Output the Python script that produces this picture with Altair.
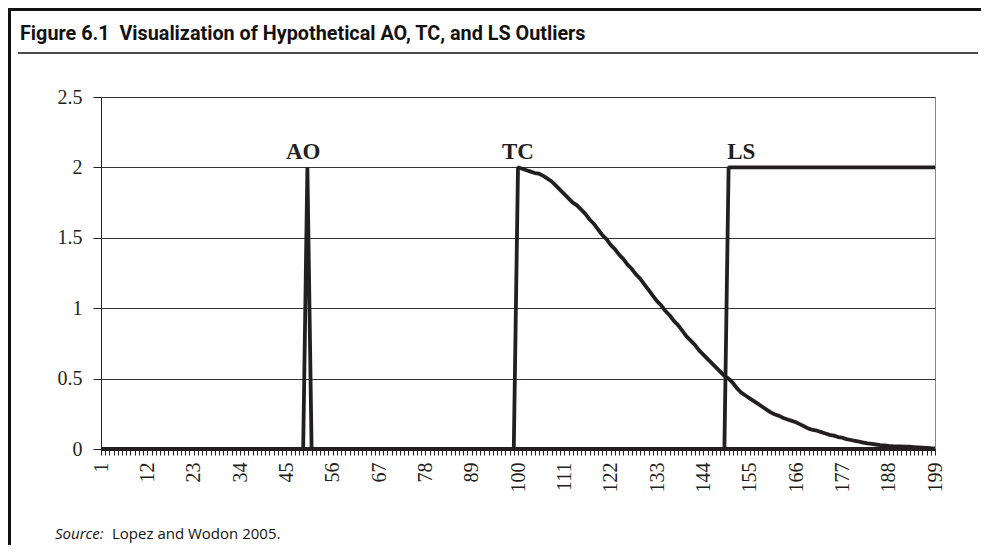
import altair as alt
import pandas as pd

# ---------------- data ----------------
periods = list(range(1, 200))

# Additive outlier: spike at t = 50
ao_values = [0.0] * 49 + [2.0] + [0.0] * 149

# Temporary change: jump at t = 100, then gradual decay
tc_tail = [
    2.00, 1.99, 1.98, 1.97, 1.96, 1.955, 1.94, 1.92, 1.90, 1.87,
    1.84, 1.81, 1.78, 1.75, 1.73, 1.70, 1.67, 1.63, 1.60, 1.56,
    1.52, 1.49, 1.45, 1.42, 1.38, 1.35, 1.31, 1.28, 1.24, 1.21,
    1.17, 1.13, 1.09, 1.05, 1.02, 0.98, 0.95, 0.91, 0.88, 0.84,
    0.80, 0.77, 0.74, 0.70, 0.67, 0.64, 0.61, 0.58, 0.55, 0.52,
    0.50, 0.47, 0.43, 0.40, 0.38, 0.36, 0.34, 0.32, 0.30, 0.28,
    0.26, 0.245, 0.235, 0.22, 0.21, 0.20, 0.19, 0.175, 0.16, 0.145,
    0.135, 0.13, 0.12, 0.11, 0.10, 0.095, 0.085, 0.08, 0.07, 0.064,
    0.058, 0.052, 0.046, 0.04, 0.036, 0.032, 0.028, 0.025, 0.022, 0.02,
    0.019, 0.018, 0.017, 0.016, 0.014, 0.012, 0.01, 0.008, 0.006, 0.005,
]
tc_values = [0.0] * 99 + tc_tail

# Level shift: permanent jump at t = 150
ls_values = [0.0] * 149 + [2.0] * 50

series_names = ["AO", "TC", "LS"]
label_positions = [49, 100, 153]
label_levels = [2.0, 2.0, 2.0]
y_ticks = [0, 0.5, 1, 1.5, 2, 2.5]

title_text = "Figure 6.1\u00a0\u00a0Visualization of Hypothetical AO, TC, and LS Outliers"
source_italic = "Source:"
source_rest = "Lopez and Wodon 2005."

# ---------------- tables ----------------
rows = []
for name, vals in zip(series_names, [ao_values, tc_values, ls_values]):
    for t, v in zip(periods, vals):
        rows.append({"t": t, "value": v, "series": name})
df = pd.DataFrame(rows)

labels_df = pd.DataFrame({"label": series_names, "t": label_positions, "level": label_levels})
one = pd.DataFrame({"k": [0]})

INK = "#231f20"
SERIF = "Liberation Serif, Times New Roman, serif"
TITLE_FONT = "Roboto, Liberation Sans, sans-serif"

x_enc = alt.X(
    "t:Q",
    scale=alt.Scale(domain=[1, 199], nice=False, zero=False),
    axis=alt.Axis(
        values=periods,
        tickCount=400,
        format="d",
        labelExpr="(datum.value - 1) % 11 == 0 ? datum.label : ''",
        labelAngle=270,
        labelAlign="right",
        labelBaseline="middle",
        labelOverlap=False,
        labelFlush=False,
        tickSize=6,
        labelPadding=7,
        grid=False,
        title=None,
        labelFont=SERIF,
        labelFontSize=20,
        labelColor=INK,
        domainColor=INK,
        tickColor=INK,
    ),
)
y_enc = alt.Y(
    "value:Q",
    scale=alt.Scale(domain=[0, 2.5], nice=False),
    axis=alt.Axis(
        values=y_ticks,
        format="~g",
        tickSize=8,
        labelPadding=11,
        grid=True,
        gridColor="#333333",
        gridWidth=1,
        title=None,
        labelFont=SERIF,
        labelFontSize=20,
        labelColor=INK,
        domainColor=INK,
        tickColor=INK,
    ),
)

lines = alt.Chart(df).mark_line(color=INK, strokeWidth=3.8, strokeJoin="bevel").encode(
    x=x_enc, y=y_enc, detail="series:N"
)

series_labels = alt.Chart(labels_df).mark_text(
    font=SERIF, fontWeight="bold", fontSize=23, color=INK, baseline="alphabetic", dy=-8, align="center"
).encode(x="t:Q", y="level:Q", text="label:N")

# ---------------- frame and captions (pixel offsets relative to plot area) ----------------
left_border = alt.Chart(one).mark_rule(color="#111111", strokeWidth=3).encode(
    x=alt.value(-91.5), y=alt.value(-88), y2=alt.value(448)
)
top_border = alt.Chart(one).mark_rule(color="#111111", strokeWidth=3).encode(
    x=alt.value(-93), x2=alt.value(880), y=alt.value(-87.5)
)
title_rule = alt.Chart(one).mark_rule(color="#111111", strokeWidth=1.5).encode(
    x=alt.value(-83), x2=alt.value(877), y=alt.value(-44)
)
title = alt.Chart(one).mark_text(
    text=title_text, font=TITLE_FONT, fontWeight="bold", fontSize=19.8, color="#111111",
    align="left", baseline="alphabetic"
).encode(x=alt.value(-81), y=alt.value(-57))

source_a = alt.Chart(one).mark_text(
    text=source_italic, font="Open Sans", fontStyle="italic", fontSize=15, color="#111111",
    align="left", baseline="alphabetic"
).encode(x=alt.value(-46), y=alt.value(442))
source_b = alt.Chart(one).mark_text(
    text=source_rest, font="Open Sans", fontSize=15, color="#111111",
    align="left", baseline="alphabetic"
).encode(x=alt.value(11), y=alt.value(442))

chart = alt.layer(
    lines, series_labels, left_border, top_border, title_rule, title, source_a, source_b
).properties(
    width=834,
    height=352,
    autosize=alt.AutoSizeParams(type="none"),
    padding={"left": 93, "top": 89, "right": 46, "bottom": 96},
    background="white",
).configure_view(stroke="#8a8a8a", strokeWidth=1)

chart.save("out.html", embed_options={"renderer": "svg", "actions": False})
